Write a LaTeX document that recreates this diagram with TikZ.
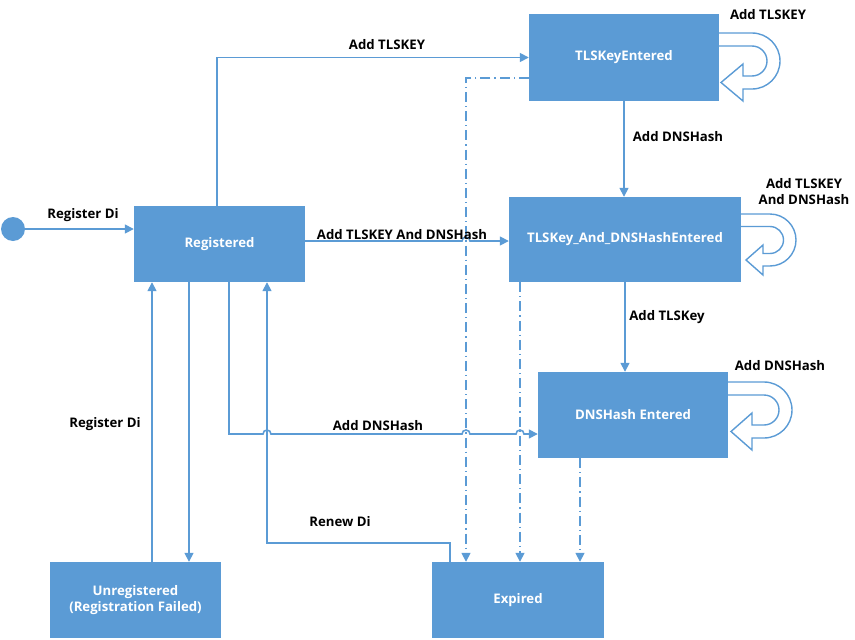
\documentclass[tikz,border=0pt]{standalone}
\usepackage{fontspec}
\setmainfont{Open Sans}
\usetikzlibrary{arrows.meta}
\definecolor{sblue}{HTML}{5B9BD5}
\tikzset{
  state/.style={fill=sblue, draw=none, text=white, font=\bfseries\fontsize{13.2}{16}\selectfont, inner sep=0pt, align=center},
  conn/.style={draw=sblue, line width=1.6pt, -{Triangle[length=9pt,width=9pt]}},
  plain/.style={draw=sblue, line width=1.6pt},
  dd/.style={draw=sblue, line width=1.6pt, dash pattern=on 10pt off 4pt on 1.2pt off 4pt, -{Triangle[length=9pt,width=9pt]}},
  lbl/.style={font=\bfseries\fontsize{13.2}{16}\selectfont, text=black, inner sep=0pt, align=center},
  loopshape/.style={draw=sblue, line width=1.4pt, fill=white, line join=miter}
}
\begin{document}
\begin{tikzpicture}[x=1pt,y=-1pt]
\useasboundingbox (0,0) rectangle (855,640);
% self loops (drawn before boxes)
\draw[loopshape] (712,33) -- (752,33) arc[start angle=-90,end angle=90,radius=28] -- (743,89) -- (743,101) -- (721,82.5) -- (743,64) -- (743,76) -- (752,76) arc[start angle=90,end angle=-90,radius=15] -- (712,46) -- cycle;
\draw[loopshape] (734,214) -- (770,214) arc[start angle=-90,end angle=90,radius=26] -- (763,266) -- (763,275) -- (746,260) -- (763,245) -- (763,253.5) -- (770,253.5) arc[start angle=90,end angle=-90,radius=13.5] -- (734,226.5) -- cycle;
\draw[loopshape] (721,382) -- (764,382) arc[start angle=-90,end angle=90,radius=28] -- (752,438) -- (752,450) -- (731,431.5) -- (752,413) -- (752,425) -- (764,425) arc[start angle=90,end angle=-90,radius=15] -- (721,395) -- cycle;
% states
\node[state, minimum width=190pt, minimum height=87pt] (tls) at (624,57.5) {TLSKeyEntered};
\node[state, minimum width=232pt, minimum height=85pt] (both) at (625,239.5) {TLSKey\_And\_DNSHashEntered};
\node[state, minimum width=190pt, minimum height=86pt] (dns) at (633,415) {DNSHash Entered};
\node[state, minimum width=171pt, minimum height=76pt] (reg) at (219.5,244) {Registered};
\node[state, minimum width=171pt, minimum height=76pt] (unreg) at (135.5,600) {Unregistered\\(Registration Failed)};
\node[state, minimum width=172pt, minimum height=76pt] (exp) at (518,600) {Expired};
\node[circle, fill=sblue, minimum size=24pt, inner sep=0pt] (start) at (13,229) {};
% helper coordinates
\coordinate (ya) at (466,241);
\coordinate (yb) at (229,434);
\coordinate (xb) at (189,0);
\coordinate (xc) at (152,0);
\coordinate (xd) at (450,543);
\coordinate (xe) at (267,543);
\coordinate (c78) at (466,78);
\coordinate (x520) at (520,0);
\coordinate (x580) at (580,0);
% connectors
\draw[conn] (start.east) -- (reg.west |- start.east);
\draw[conn] ([xshift=-2.5pt]reg.north) |- (tls.west);
\draw[conn] (reg.east |- ya) -- (462,241) arc[start angle=180,end angle=360,radius=4] -- (both.west |- ya);
\draw[conn] (tls.south) -- (tls.south |- both.north);
\draw[conn] (both.south) -- (both.south |- dns.north);
\draw[conn] (reg.south -| yb) -- (yb) -- (263,434) arc[start angle=180,end angle=360,radius=4] -- (462,434) arc[start angle=180,end angle=360,radius=4] -- (516,434) arc[start angle=180,end angle=360,radius=4] -- (dns.west |- yb);
\draw[conn] (reg.south -| xb) -- (unreg.north -| xb);
\draw[conn] (unreg.north -| xc) -- (reg.south -| xc);
\draw[conn] (exp.north -| xd) -- (xd) -- (xe) -- (reg.south -| xe);
\draw[dd] (tls.west |- c78) -- (c78) -- (exp.north -| c78);
\draw[dd] (both.south -| x520) -- (exp.north -| x520);
\draw[dd] (dns.south -| x580) -- (exp.north -| x580);
% labels
\node[lbl] (l1) at (83,215) {Register Di};
\node[lbl] (l2) at (387,45) {Add TLSKEY};
\node[lbl] (l3) at (402,235) {Add TLSKEY And DNSHash};
\node[lbl] (l4) at (678,137) {Add DNSHash};
\node[lbl] (l5) at (667,317) {Add TLSKey};
\node[lbl] (l6) at (378,426) {Add DNSHash};
\node[lbl] (l7) at (105,424) {Register Di};
\node[lbl] (l8) at (340,522) {Renew Di};
\node[lbl] (l9) at (768,15) {Add TLSKEY};
\node[lbl] (l10) at (804,192) {Add TLSKEY\\And DNSHash};
\node[lbl] (l11) at (780,366) {Add DNSHash};
\end{tikzpicture}
\end{document}
